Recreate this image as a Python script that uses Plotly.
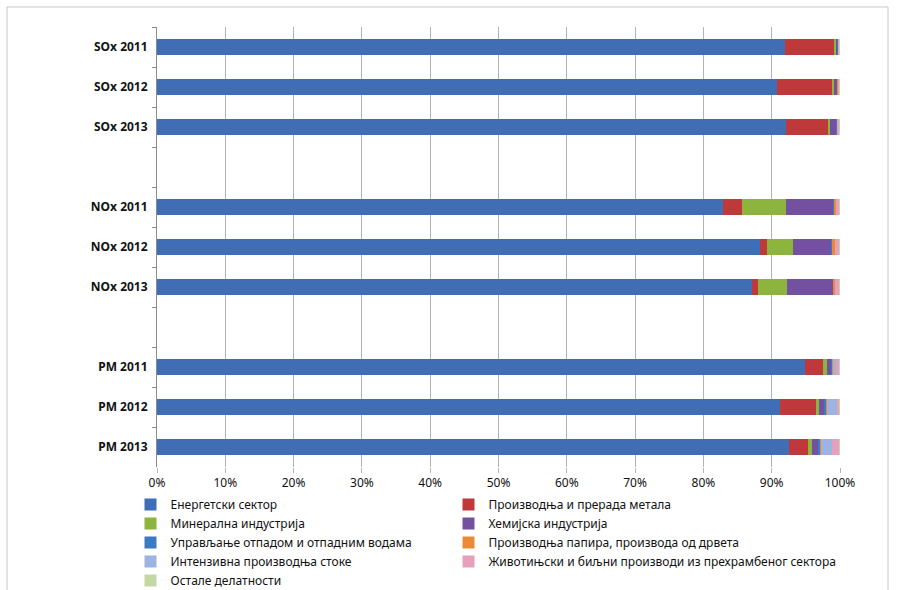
import plotly.graph_objects as go

# Rows of the chart (two blank rows separate the pollutant groups)
categories = ["SOx 2011", "SOx 2012", "SOx 2013", " ",
              "NOx 2011", "NOx 2012", "NOx 2013", "  ",
              "PM 2011", "PM 2012", "PM 2013"]

# Share of emissions (%) by sector, one value per row (None for blank rows)
energy        = [91.9, 90.8, 92.1, None, 82.9, 88.3, 87.1, None, 94.9, 91.2, 92.5]
metals        = [7.2, 8.0, 6.1, None, 2.8, 1.0, 0.9, None, 2.6, 5.3, 2.8]
minerals      = [0.4, 0.3, 0.3, None, 6.4, 3.8, 4.2, None, 0.6, 0.4, 0.6]
chemicals     = [0.2, 0.5, 1.0, None, 6.9, 5.7, 6.8, None, 0.7, 0.9, 1.0]
waste         = [0.05, 0.1, 0.1, None, 0.1, 0.1, 0.1, None, 0.1, 0.2, 0.2]
paper_wood    = [0.05, 0.1, 0.1, None, 0.3, 0.3, 0.2, None, 0.1, 0.1, 0.1]
livestock     = [0.0, 0.0, 0.0, None, 0.0, 0.0, 0.0, None, 0.4, 1.5, 1.6]
food_products = [0.1, 0.1, 0.2, None, 0.5, 0.7, 0.6, None, 0.5, 0.3, 1.1]
other         = [0.1, 0.1, 0.1, None, 0.1, 0.1, 0.1, None, 0.1, 0.1, 0.1]

# (name, values, colour, legend column)
series = [
    ("Енергетски сектор", energy, "#3F6DB6", "legend"),
    ("Производња и прерада метала", metals, "#C0393A", "legend2"),
    ("Минерална индустрија", minerals, "#8DB43C", "legend"),
    ("Хемијска индустрија", chemicals, "#7450A0", "legend2"),
    ("Управљање отпадом и отпадним водама", waste, "#3A7CC4", "legend"),
    ("Производња папира, производа од дрвета", paper_wood, "#EC8A33", "legend2"),
    ("Интензивна производња стоке", livestock, "#9DB4E2", "legend"),
    ("Животињски и биљни производи из прехрамбеног сектора", food_products, "#E6A0BE", "legend2"),
    ("Остале делатности", other, "#C5D7A2", "legend"),
]

fig = go.Figure()
for name, values, color, legend_id in series:
    fig.add_trace(go.Bar(
        y=categories, x=values, name=name, orientation="h",
        marker=dict(color=color, line=dict(width=0)),
        legend=legend_id,
    ))

font_family = "Noto Sans"
legend_font = dict(family=font_family, size=12, color="#111111")

fig.update_layout(
    width=907, height=590,
    barmode="stack", barnorm="percent", bargap=0.62,
    paper_bgcolor="white", plot_bgcolor="white",
    margin=dict(l=157, r=67, t=27, b=123, autoexpand=False),
    font=dict(family=font_family, size=12, color="#111111"),
    showlegend=True,
    legend=dict(
        orientation="v", x=-0.0388, xanchor="left", y=-0.0523, yanchor="top",
        font=legend_font, tracegroupgap=0, itemwidth=30, traceorder="normal",
        bgcolor="rgba(0,0,0,0)",
    ),
    legend2=dict(
        orientation="v", x=0.4268, xanchor="left", y=-0.0523, yanchor="top",
        font=legend_font, tracegroupgap=0, itemwidth=30, traceorder="normal",
        bgcolor="rgba(0,0,0,0)",
    ),
    xaxis=dict(
        range=[0, 100], dtick=10, ticksuffix="%",
        showgrid=True, gridcolor="#B4B4B4", gridwidth=1,
        zeroline=False, showline=False,
        ticks="outside", ticklen=5, tickcolor="#B4B4B4",
        tickfont=dict(family=font_family, size=12, color="#111111"),
        fixedrange=True,
    ),
    yaxis=dict(
        categoryorder="array", categoryarray=categories,
        autorange="reversed",
        showline=True, linecolor="#8C8C8C", linewidth=1,
        ticks="outside", ticklen=4, tickcolor="#8C8C8C", tickson="boundaries",
        showgrid=False,
        tickfont=dict(family=font_family, size=12, color="#111111", weight="bold"),
        ticklabelstandoff=6,
        fixedrange=True,
    ),
    shapes=[dict(
        type="rect", xref="paper", yref="paper",
        x0=-0.2196, x1=1.0703, y0=-0.32, y1=1.0455,
        line=dict(color="#C8C8C8", width=1), fillcolor="rgba(0,0,0,0)",
        layer="below",
    )],
)

fig.write_html("out.html")
